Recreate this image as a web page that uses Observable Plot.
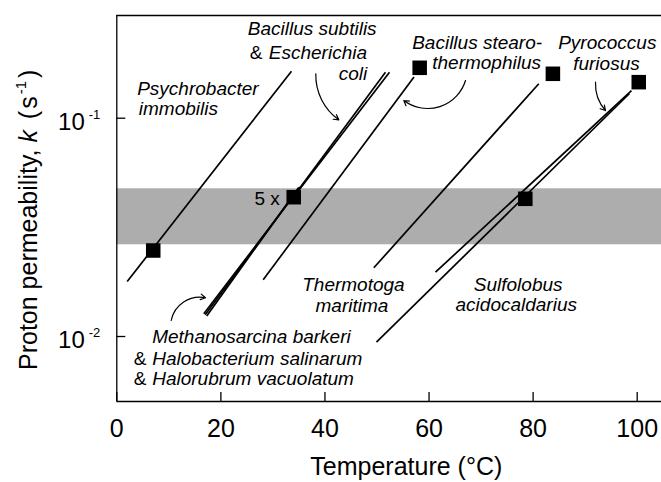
<!DOCTYPE html>
<html><head><meta charset="utf-8">
<script src="https://cdn.jsdelivr.net/npm/d3@7"></script>
<script src="https://cdn.jsdelivr.net/npm/@observablehq/plot@0.6"></script>
<style>body{margin:0;background:#fff} svg{display:block}</style>
</head><body>
<script>
// ---------- data (temperature °C, permeability k in s^-1) ----------
const species = ["Psychrobacter immobilis", "Methanosarcina barkeri", "Halobacterium salinarum", "Halorubrum vacuolatum", "Bacillus subtilis", "Escherichia coli", "Bacillus stearothermophilus", "Thermotoga maritima", "Pyrococcus furiosus", "Sulfolobus acidocaldarius"];
const tempStart = [2.0, 16.72, 17.28, 16.99, 33.38, 33.47, 28.13, 49.39, 61.24, 49.90];
const tempEnd   = [33.57, 35.30, 34.95, 35.15, 51.63, 52.40, 57.11, 81.09, 98.90, 98.52];
const kStart    = [0.01786, 0.012706, 0.012415, 0.012573, 0.041976, 0.041976, 0.018188, 0.020640, 0.019706, 0.0094165];
const kEnd      = [0.1642, 0.048386, 0.048131, 0.048232, 0.16244, 0.16244, 0.15444, 0.14378, 0.13391, 0.12976];

const growthTemp = [7, 34.0, 58.2, 83.8, 78.5, 100.3];
const growthK    = [0.02477, 0.04346, 0.17016, 0.15972, 0.042734, 0.14623];

const bandK   = [0.02631, 0.04749];
const xTicks  = [0, 20, 40, 60, 80, 100];
const yTicks  = [0.01, 0.1];
const xDomain = [0, 104.67];
const yDomain = [0.005038, 0.2954];

const italicText = ["Psychrobacter", "immobilis", "Bacillus subtilis", "Escherichia", "coli", "Bacillus stearo-", "thermophilus", "Pyrococcus", "furiosus", "Thermotoga", "maritima", "Sulfolobus", "acidocaldarius", "Methanosarcina barkeri", "Halobacterium salinarum", "Halorubrum vacuolatum"];
const italicT = [3.92, 4.23, 25.17, 29.21, 42.66, 56.76, 60.61, 84.82, 87.70, 35.63, 38.18, 68.60, 65.09, 6.80, 6.80, 6.80];
const italicK = [0.12706, 0.10289, 0.23924, 0.18713, 0.14885, 0.20792, 0.16837, 0.20792, 0.16538, 0.016244, 0.012921, 0.016244, 0.013058, 0.0093179, 0.0074405, 0.0059643];

const plainText = ["&", "&", "&", "5 x"];
const plainT = [25.56, 3.27, 3.27, 26.46];
const plainK = [0.18713, 0.0074405, 0.0059643, 0.039819];

const arrowT1 = [38.24, 67.01, 91.99, 10.45];
const arrowK1 = [0.15972, 0.14885, 0.14623, 0.011839];
const arrowT2 = [42.66, 55.15, 93.91, 17.04];
const arrowK2 = [0.098327, 0.12052, 0.10846, 0.015042];

// ---------- tables ----------
const segments = species.map((s, i) => ({species: s, t1: tempStart[i], t2: tempEnd[i], k1: kStart[i], k2: kEnd[i]}));
const growth = growthTemp.map((t, i) => ({t, k: growthK[i]}));
const italicLabels = italicText.map((s, i) => ({s, t: italicT[i], k: italicK[i]}));
const plainLabels = plainText.map((s, i) => ({s, t: plainT[i], k: plainK[i]}));
const arrows = arrowT1.map((t, i) => ({t1: t, k1: arrowK1[i], t2: arrowT2[i], k2: arrowK2[i]}));
const arrowBends = [-28, 55, -22, 45];

const chart = Plot.plot({
  width: 661, height: 482,
  marginLeft: 116.3, marginRight: 0, marginTop: 15, marginBottom: 81,
  style: {fontFamily: "'Liberation Sans', Arial, Helvetica, sans-serif", background: "#fff", color: "#000"},
  x: {domain: xDomain},
  y: {type: "log", domain: yDomain},
  marks: [
    Plot.rect([bandK], {x1: () => xDomain[0], x2: () => xDomain[1], y1: d => d[0], y2: d => d[1], fill: "#adadad"}),
    Plot.link(segments, {x1: "t1", x2: "t2", y1: "k1", y2: "k2", stroke: "#000", strokeWidth: 1.7}),
    Plot.dot(growth, {x: "t", y: "k", symbol: "square", r: 8.2, fill: "#000", stroke: "none"}),
    ...arrows.map((a, i) => Plot.arrow([a], {x1: "t1", y1: "k1", x2: "t2", y2: "k2", bend: arrowBends[i], stroke: "#000", strokeWidth: 1.2, headLength: 7})),
    Plot.text(italicLabels, {x: "t", y: "k", text: "s", fontStyle: "italic", fontSize: 19, textAnchor: "start", lineAnchor: "bottom", fill: "#000"}),
    Plot.text(plainLabels, {x: "t", y: "k", text: "s", fontSize: 19, textAnchor: "start", lineAnchor: "bottom", fill: "#000"}),
    Plot.ruleX([xDomain[0]], {stroke: "#000", strokeWidth: 1.3}),
    Plot.ruleY(yDomain, {stroke: "#000", strokeWidth: 1.3}),
    Plot.axisX({ticks: xTicks, tickSize: 9, dy: -9, fill: "none", tickFormat: () => "", label: null, strokeWidth: 1.3}),
    Plot.axisX({ticks: xTicks, tickSize: 0, tickPadding: 18, fontSize: 25, tickFormat: d => String(d), label: null}),
    Plot.axisY({ticks: yTicks, tickSize: 9, dx: 9, fill: "none", tickFormat: () => "", label: null, strokeWidth: 1.3}),
    Plot.axisY({ticks: yTicks, tickSize: 0, tickPadding: 16.5, dy: 4.3, fontSize: 24, tickFormat: d => "10^" + Math.round(Math.log10(d)), label: null})
  ]
});
document.body.appendChild(chart);

// superscript exponents on y tick labels
d3.select(chart).selectAll('g[aria-label="y-axis tick label"] text').each(function() {
  const parts = this.textContent.split("^");
  if (parts.length !== 2) return;
  const t = d3.select(this);
  t.text(parts[0]);
  t.append("tspan").attr("dx", 4).attr("dy", -11).attr("font-size", 13).text(parts[1]);
});

// axis titles
const svg = d3.select(chart);
svg.append("text").attr("x", 406.3).attr("y", 475).attr("text-anchor", "middle")
  .attr("font-size", 25).attr("fill", "#000").text("Temperature (°C)");
const yt = svg.append("text").attr("transform", "translate(36.7,370) rotate(-90)")
  .attr("text-anchor", "start").attr("font-size", 25).attr("fill", "#000").style("white-space", "pre");
yt.append("tspan").text("Proton permeability, ");
yt.append("tspan").attr("font-style", "italic").text("k");
yt.append("tspan").attr("dx", 4).text(" (");
yt.append("tspan").attr("dx", 2).text("s");
yt.append("tspan").attr("dx", 2).attr("dy", -11).attr("font-size", 15).text("-1");
yt.append("tspan").attr("dx", 3).attr("dy", 11).text(")");
</script>
</body></html>
